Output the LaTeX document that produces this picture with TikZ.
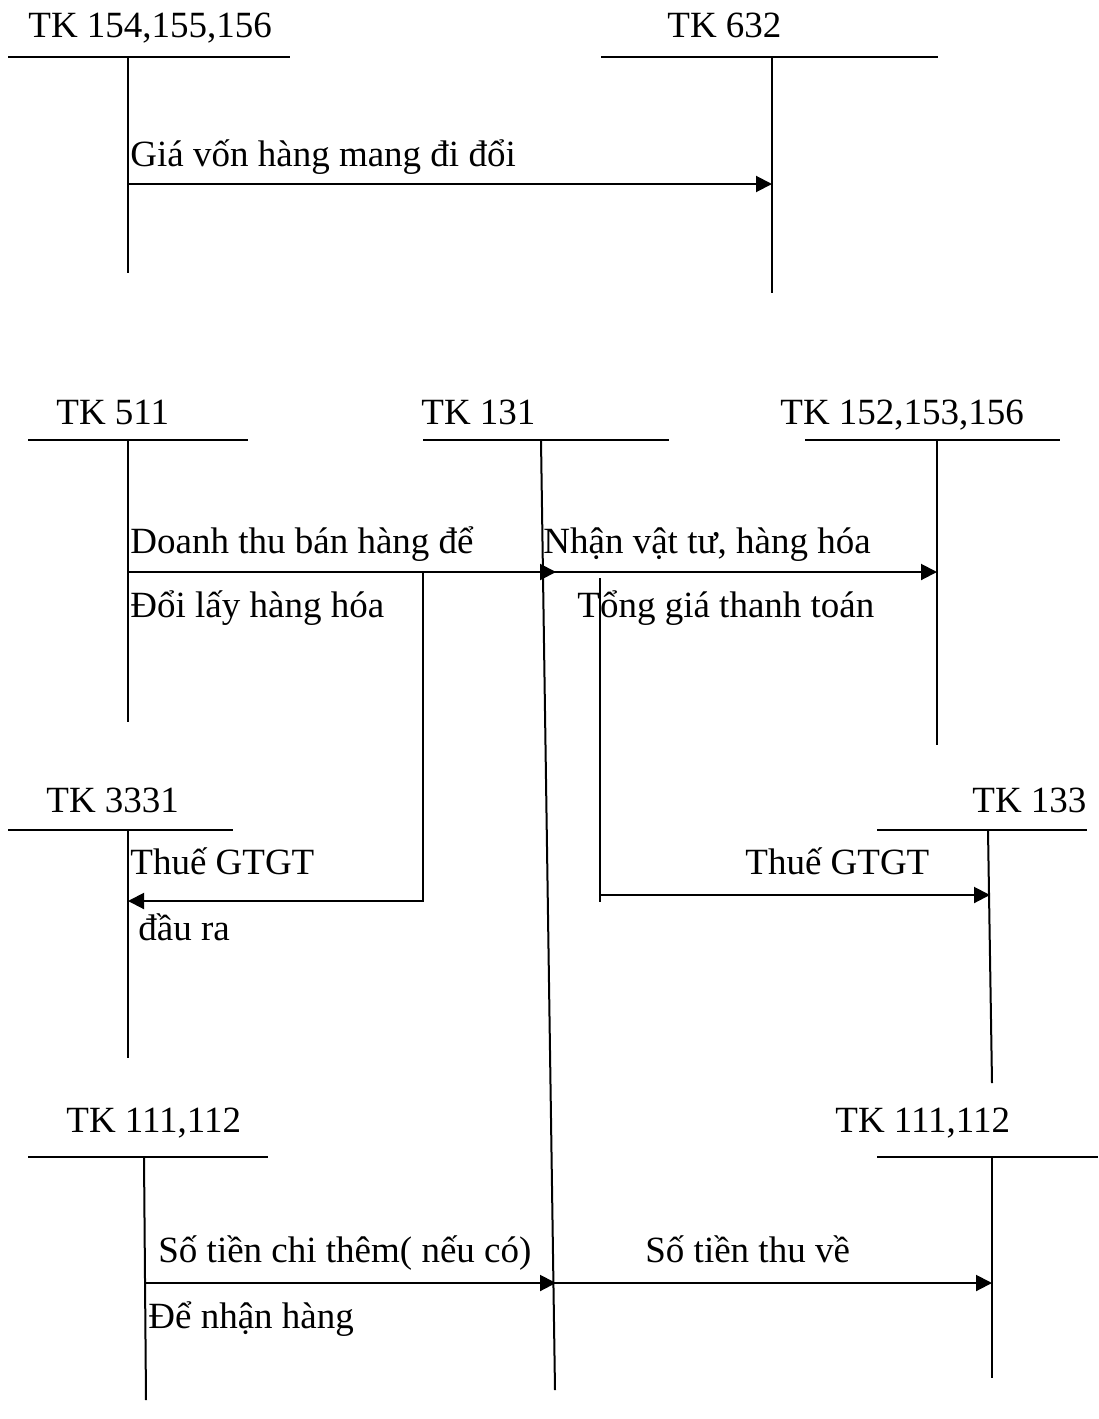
\documentclass[tikz,border=0pt]{standalone}
\usepackage{fontspec}
\setmainfont{Liberation Serif}
\usetikzlibrary{arrows.meta}
\begin{document}
\begin{tikzpicture}[x=0.5pt,y=-0.5pt,
  tline/.style={line width=1pt},
  flow/.style={line width=1pt,-{Triangle[length=8pt,width=8pt]}},
  lbl/.style={anchor=base west,inner sep=0pt,font=\fontsize{18.5}{22}\selectfont},
]
\useasboundingbox (0,0) rectangle (1098,1419);

% account headings
\node[lbl] (h1) at (28,37) {TK 154,155,156};
\node[lbl] (h2) at (667,37) {TK 632};
\node[lbl] (h3) at (56,424) {TK 511};
\node[lbl] (h4) at (421,424) {TK 131};
\node[lbl] (h5) at (780,424) {TK 152,153,156};
\node[lbl] (h6) at (46,812) {TK 3331};
\node[lbl] (h7) at (972,812) {TK 133};
\node[lbl] (h8) at (66,1132) {TK 111,112};
\node[lbl] (h9) at (835,1132) {TK 111,112};

% T-account bars: left end, right end, stem top, stem bottom
\coordinate (a1l) at (8,57);   \coordinate (a1r) at (290,57);
\coordinate (a1t) at (128,57); \coordinate (a1b) at (128,273);
\coordinate (a2l) at (601,57); \coordinate (a2r) at (938,57);
\coordinate (a2t) at (772,57); \coordinate (a2b) at (772,293);
\coordinate (a3l) at (28,440); \coordinate (a3r) at (248,440);
\coordinate (a3t) at (128,440); \coordinate (a3b) at (128,722);
\coordinate (a4l) at (423,440); \coordinate (a4r) at (669,440);
\coordinate (a4t) at (541,440); \coordinate (a4b) at (555,1390);
\coordinate (a5l) at (805,440); \coordinate (a5r) at (1060,440);
\coordinate (a5t) at (937,440); \coordinate (a5b) at (937,745);
\coordinate (a6l) at (8,830);  \coordinate (a6r) at (233,830);
\coordinate (a6t) at (128,830); \coordinate (a6b) at (128,1058);
\coordinate (a7l) at (877,830); \coordinate (a7r) at (1087,830);
\coordinate (a7t) at (988,830); \coordinate (a7b) at (992,1083);
\coordinate (a8l) at (28,1157); \coordinate (a8r) at (268,1157);
\coordinate (a8t) at (144,1157); \coordinate (a8b) at (146,1400);
\coordinate (a9l) at (877,1157); \coordinate (a9r) at (1098,1157);
\coordinate (a9t) at (992,1157); \coordinate (a9b) at (992,1378);

\foreach \i in {1,...,9}{
  \draw[tline] (a\i l) -- (a\i r);
  \draw[tline] (a\i t) -- (a\i b);
}

% flows
\coordinate (f1s) at (128,184); \coordinate (f1e) at (772,184);
\draw[flow] (f1s) -- (f1e);
\node[lbl] (t1) at (130,166) {Giá vốn hàng mang đi đổi};

\coordinate (f2s) at (128,572); \coordinate (f2e) at (556,572);
\draw[flow] (f2s) -- (f2e);
\coordinate (f3s) at (543,572); \coordinate (f3e) at (937,572);
\draw[flow] (f3s) -- (f3e);
\node[lbl] (t2) at (130,553) {Doanh thu bán hàng để};
\node[lbl] (t3) at (130,617) {Đổi lấy hàng hóa};
\node[lbl] (t4) at (543,553) {Nhận vật tư, hàng hóa};
\node[lbl] (t5) at (577,617) {Tổng giá thanh toán};

\coordinate (f4s) at (423,572); \coordinate (f4c) at (423,901); \coordinate (f4e) at (128,901);
\draw[flow] (f4s) -- (f4c) -- (f4e);
\node[lbl] (t6) at (130,874) {Thuế GTGT};
\node[lbl] (t7) at (138,940) {đầu ra};

\coordinate (f5s) at (600,578); \coordinate (f5c) at (600,902);
\draw[tline] (f5s) -- (f5c);
\coordinate (f5a) at (600,895); \coordinate (f5e) at (990,895);
\draw[flow] (f5a) -- (f5e);
\node[lbl] (t8) at (745,874) {Thuế GTGT};

\coordinate (f6s) at (145,1283); \coordinate (f6e) at (556,1283);
\draw[flow] (f6s) -- (f6e);
\coordinate (f7s) at (554,1283); \coordinate (f7e) at (992,1283);
\draw[flow] (f7s) -- (f7e);
\node[lbl] (t9) at (158,1262) {Số tiền chi thêm( nếu có)};
\node[lbl] (t10) at (148,1328) {Để nhận hàng};
\node[lbl] (t11) at (645,1262) {Số tiền thu về};
\end{tikzpicture}
\end{document}
